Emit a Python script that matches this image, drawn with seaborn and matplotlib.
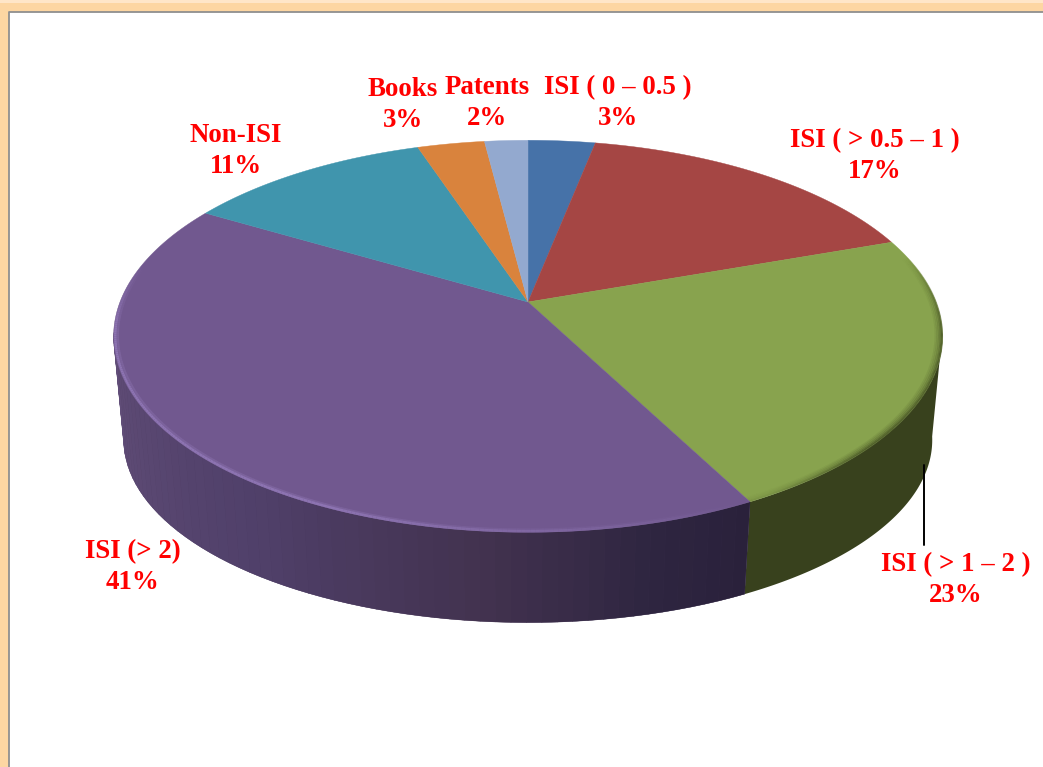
import numpy as np
import matplotlib
matplotlib.use("Agg")
import matplotlib.pyplot as plt
from matplotlib.collections import PolyCollection, LineCollection
from matplotlib.colors import to_rgb
import seaborn as sns

# ---- data (clockwise from 12 o'clock) ----
categories = ["ISI ( 0 – 0.5 )", "ISI ( > 0.5 – 1 )", "ISI ( > 1 – 2 )", "ISI (> 2)",
              "Non-ISI", "Books", "Patents"]
shares = [3.1, 16.5, 22.8, 41.1, 11.4, 3.1, 2.0]
share_labels = ["3%", "17%", "23%", "41%", "11%", "3%", "2%"]

# ---- style and layout ----
top_colors = ["#4672a8", "#a54644", "#88a34e", "#71588f", "#4095ad", "#d9833d", "#93a9cf"]
label_xy = [(618, 103), (875, 156), (956, 580), (133, 567), (236, 151), (403, 105), (487, 103)]

sns.set_theme(style="white")
plt.rcParams["font.family"] = ["Liberation Serif", "DejaVu Serif"]

W, H, K = 408.0, 190.0, 0.175
CX, CY = 528.0, 302.0
W2, H2, CY2 = 398.0, 177.0, 408.0


def top(theta, r=1.0):
    X, Y = r * np.sin(theta), r * np.cos(theta)
    w = 1 + K * Y
    return CX + W * X / w, CY - H * Y / w


def bottom(theta):
    X, Y = np.sin(theta), np.cos(theta)
    w = 1 + K * Y
    return CX + W2 * X / w, CY2 - H2 * Y / w


fig = plt.figure(figsize=(10.43, 7.67), dpi=100, facecolor="#fdd6a2")
ax = fig.add_axes([0, 0, 1, 1])
ax.set_xlim(0, 1043)
ax.set_ylim(767, 0)
ax.axis("off")

# page frame
ax.fill([0, 1043, 1043, 0], [0, 0, 3, 3], color="#ffe6c8", lw=0, zorder=0)
ax.fill([9, 1043, 1043, 9], [12, 12, 767, 767], color="white", lw=0, zorder=1)
ax.plot([8.5, 8.5, 1043], [767, 11.5, 11.5], color="#8f8f8f", lw=1.3, zorder=2)

edges = np.concatenate([[0], np.cumsum(shares)]) / np.sum(shares) * 2 * np.pi
WALL_A, WALL_B = np.radians(99), np.radians(261)

# side wall: solid underlay, then colour bands on top
stops_t = np.radians([150, 165, 185, 215, 250, 275, 310])
stops_c = np.array([to_rgb(c) for c in
                    ["#29203a", "#2e2540", "#42324f", "#50406a", "#5d4a74", "#66527f", "#66527f"]])
for a, b, base in [(WALL_A, edges[3], "#38411d"), (edges[3], WALL_B, "#4a3a5c")]:
    ts = np.linspace(a, b, 200)
    xt, yt = top(ts)
    xb, yb = bottom(ts)
    ax.fill(np.r_[xt, xb[::-1]], np.r_[yt, yb[::-1]], facecolor=base, edgecolor="none", zorder=3)

ts = np.linspace(edges[3], WALL_B, 60)
polys, cols = [], []
for t0, t1 in zip(ts[:-1], ts[1:]):
    x0, y0 = top(t0); x1, y1 = top(t1)
    x2, y2 = bottom(t1); x3, y3 = bottom(t0)
    polys.append([(x0, y0), (x1, y1), (x2, y2), (x3, y3)])
    tm = (t0 + t1) / 2
    cols.append(tuple(np.interp(tm, stops_t, stops_c[:, i]) for i in range(3)))
ax.add_collection(PolyCollection(polys, facecolors=cols, edgecolors=cols, linewidths=0.3,
                                 zorder=3.1))

# top face
for a, b, c in zip(edges[:-1], edges[1:], top_colors):
    ts = np.linspace(a, b, 200)
    x, y = top(ts)
    ax.fill(np.r_[CX, x], np.r_[CY, y], facecolor=c, edgecolor=c, lw=0.3, zorder=4)


# bevel along the rim
def rim(t0, t1, r, color, alpha_fn, lw):
    ts = np.linspace(t0, t1, 240)
    x, y = top(ts, r)
    segs = [[(x[i], y[i]), (x[i + 1], y[i + 1])] for i in range(len(ts) - 1)]
    rgb = to_rgb(color)
    rgba = [(*rgb, float(alpha_fn((ts[i] + ts[i + 1]) / 2))) for i in range(len(ts) - 1)]
    ax.add_collection(LineCollection(segs, colors=rgba, linewidths=lw, zorder=5, capstyle="butt"))


END_P = np.radians(282)
purple_fade = lambda t: np.clip((t - edges[3]) / 0.9, 0.0, 1.0) * np.clip((END_P - t) / 0.35, 0.0, 1.0)
rim(edges[3], END_P, 0.996, "#8d74b2", purple_fade, 1.8)
rim(edges[3], END_P, 0.990, "#8d74b2", lambda t: 0.4 * purple_fade(t), 1.6)

START_G = np.radians(76)
green_a = lambda t: np.clip((t - START_G) / 0.4, 0, 1) * np.clip((edges[3] - t) / 0.35, 0.15, 1)
for r, strength in [(0.984, 0.12), (0.988, 0.22), (0.992, 0.38), (0.996, 0.6), (0.999, 0.8)]:
    rim(START_G, edges[3], r, "#4c5a28", lambda t, s=strength: s * green_a(t), 1.5)

# leader line
ax.plot([924, 924], [465, 545], color="black", lw=1.4, zorder=6)

# labels
for name, pct, (lx, ly) in zip(categories, share_labels, label_xy):
    ax.text(lx, ly, f"{name}\n{pct}", color="#ff0000", fontsize=19.4, fontweight="bold",
            ha="center", va="center", linespacing=1.33, zorder=7)

fig.savefig("out.png", dpi=100, facecolor=fig.get_facecolor())
